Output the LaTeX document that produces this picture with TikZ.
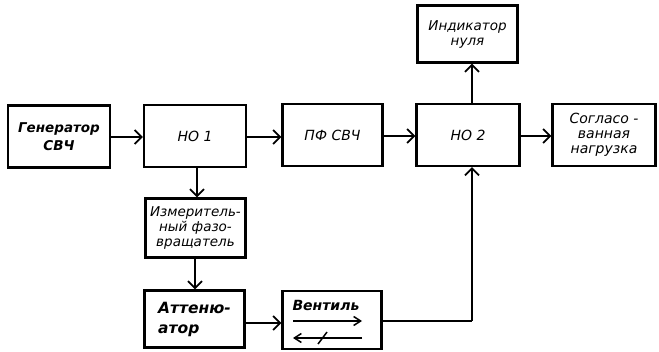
\documentclass[tikz,border=0pt]{standalone}
\usepackage{fontspec}
\setmainfont{DejaVu Sans}
\usetikzlibrary{arrows.meta}
\tikzset{
  blk/.style={draw, line width=2.2pt, minimum width=#1, inner sep=1pt, align=center,
              font=\itshape\fontsize{13.5}{15}\selectfont},
  blk/.default=101pt,
  conn/.style={line width=2pt, -{Straight Barb[length=7pt,width=14pt,line width=1.8pt]}},
  thin/.style={line width=1.5pt}
}
\begin{document}
\begin{tikzpicture}[x=1pt,y=-1pt]
\useasboundingbox (0,0) rectangle (659,352);
% top row
\node[blk=102pt, minimum height=62pt, font=\bfseries\itshape\fontsize{13.5}{18}\selectfont] (gen) at (59,136.5) {Генератор\\СВЧ};
\node[blk=102pt, minimum height=62pt, font=\itshape\fontsize{14}{15}\selectfont] (no1) at (195,136) {НО 1};
\node[blk=100pt, minimum height=62pt, font=\itshape\fontsize{14}{15}\selectfont] (pf) at (332.5,135) {ПФ СВЧ};
\node[blk=103pt, minimum height=62pt, font=\itshape\fontsize{14}{15}\selectfont] (no2) at (468,135) {НО 2};
\node[blk=103pt, minimum height=62pt, font=\itshape\fontsize{14}{15}\selectfont] (sog) at (604,135) {Согласо -\\ванная\\нагрузка};
\node[blk=100pt, minimum height=57pt] (ind) at (467.5,34) {Индикатор\\нуля};
% lower column
\node[blk=100pt, minimum height=59pt, font=\itshape\fontsize{13.5}{15}\selectfont] (izm) at (195.5,228) {Измеритель-\\ный фазо-\\вращатель};
\node[blk=100pt, minimum height=57pt, align=left, font=\bfseries\itshape\fontsize{15.5}{20}\selectfont] (att) at (194.5,319) {Аттеню-\\атор};
\node[draw, line width=2.2pt, minimum width=99pt, minimum height=58pt] (ven) at (332,320) {};
\node[font=\bfseries\itshape\fontsize{14}{15}\selectfont, anchor=west] (ventxt) at (289,305) {Вентиль};
\coordinate (ra1) at (293,321);
\coordinate (ra2) at (362,321);
\coordinate (la1) at (362,338);
\coordinate (la2) at (293,338);
\draw[thin, -{Straight Barb[length=7pt,width=9pt,line width=1.5pt]}] (ra1) -- (ra2);
\draw[thin, -{Straight Barb[length=7pt,width=9pt,line width=1.5pt]}] (la1) -- (la2);
\coordinate (sl1) at (318,344);
\coordinate (sl2) at (327,332);
\draw[thin] (sl1) -- (sl2);
% connectors
\draw[conn] (gen.east |- 0,137) -- (no1.west |- 0,137);
\draw[conn] (no1.east |- 0,137) -- (pf.west |- 0,137);
\draw[conn] (pf.east |- 0,136) -- (no2.west |- 0,136);
\draw[conn] (no2.east |- 0,136) -- (sog.west |- 0,136);
\coordinate (x472) at (472,0);
\draw[conn] (no2.north -| x472) -- (ind.south -| x472);
\coordinate (x197) at (197,0);
\coordinate (x195) at (195,0);
\draw[conn] (no1.south -| x197) -- (izm.north -| x197);
\draw[conn] (izm.south -| x195) -- (att.north -| x195);
\draw[conn] (att.east |- 0,323) -- (ven.west |- 0,323);
\coordinate (corner) at (472,321);
\draw[line width=2pt] (ven.east |- corner) -- (corner);
\draw[conn] (corner) -- (no2.south -| corner);
\end{tikzpicture}
\end{document}
